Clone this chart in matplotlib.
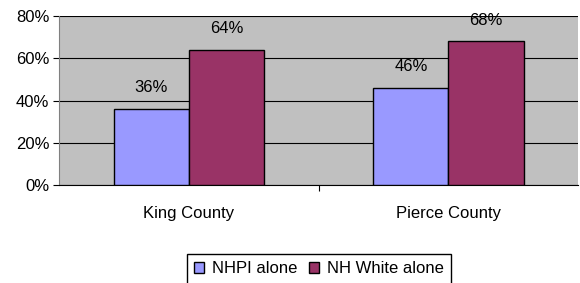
import numpy as np
import matplotlib.pyplot as plt
from matplotlib.ticker import PercentFormatter

counties = ["King County", "Pierce County"]
nhpi = [36, 46]
white = [64, 68]
series_names = ["NHPI alone", "NH White alone"]

plt.rcParams['font.family'] = ['Liberation Sans', 'DejaVu Sans']

fig = plt.figure(figsize=(5.8, 2.83), dpi=100)
ax = fig.add_axes([0.102, 0.346, 0.895, 0.597])
ax.set_facecolor('#C0C0C0')

x = np.arange(len(counties))
w = 0.29
b1 = ax.bar(x - w/2, nhpi, w, color='#9999FF', edgecolor='black', linewidth=1, label=series_names[0], zorder=3)
b2 = ax.bar(x + w/2, white, w, color='#993366', edgecolor='black', linewidth=1, label=series_names[1], zorder=3)

for bars, vals in ((b1, nhpi), (b2, white)):
    for r, v in zip(bars, vals):
        ax.text(r.get_x() + r.get_width()/2, v + 6.5, f"{v}%", ha='center', va='bottom', fontsize=12)

ax.set_xlim(-0.5, 1.5)
ax.set_ylim(0, 80)
ax.set_yticks([0, 20, 40, 60, 80])
ax.yaxis.set_major_formatter(PercentFormatter(decimals=0))
ax.yaxis.grid(True, color='black', linewidth=0.8, zorder=1)
ax.set_xticks([0.5])
ax.set_xticklabels([])
ax.set_xticks([0, 1], minor=True)
ax.set_xticklabels(counties, minor=True)
ax.tick_params(axis='x', which='minor', length=0, pad=15, labelsize=12)
ax.tick_params(axis='x', which='major', length=4, direction='out')
ax.tick_params(axis='y', length=4, direction='out', labelsize=12, pad=3)

for s in ('top', 'right'):
    ax.spines[s].set_visible(False)
ax.spines['left'].set_color('#808080')
ax.spines['bottom'].set_color('black')

fig.legend(loc='center', bbox_to_anchor=(0.55, 0.05), ncol=2, fontsize=12,
           frameon=True, fancybox=False, edgecolor='black', framealpha=1,
           handlelength=0.6, handleheight=0.6, handletextpad=0.5, columnspacing=0.65,
           borderpad=0.45, borderaxespad=0)

fig.savefig('out.png', dpi=100)
